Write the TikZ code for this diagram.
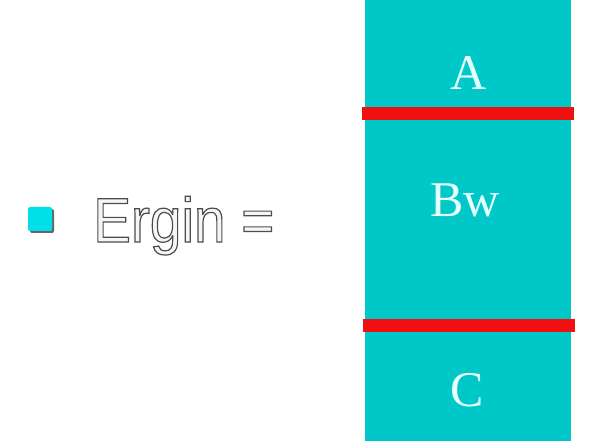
\documentclass[tikz,border=0pt]{standalone}
\usepackage{fontspec}
\setmainfont{Liberation Serif}
\newfontfamily\slidefont[FakeStretch=0.9]{Liberation Sans}
\usetikzlibrary{positioning}
\definecolor{colteal}{RGB}{0,200,200}
\definecolor{barred}{RGB}{240,16,16}
\definecolor{bulletcyan}{RGB}{0,224,232}
\definecolor{labelwhite}{RGB}{232,255,255}
\definecolor{embosslight}{RGB}{246,246,246}
% light letters with a dark edge
\newcommand\embossed[1]{\special{pdf:literal direct 0.3 G 1.2 w 2 Tr}#1\special{pdf:literal direct 0 Tr}}

\begin{document}
\begin{tikzpicture}[x=1pt,y=1pt,
    layer/.style={font=\fontsize{50}{54}\selectfont,text=labelwhite,inner sep=0pt},
    bar/.style={draw=barred,line width=13pt},
    square/.style={minimum size=24pt,inner sep=0pt,rounded corners=2pt},
    emboss/.style={font=\slidefont\fontsize{63}{68}\selectfont,inner sep=0pt,anchor=base west}]
  \useasboundingbox (0,0) rectangle (590,445);
  % the layered column
  \node[fill=colteal,minimum width=206pt,minimum height=441pt,inner sep=0pt,
        anchor=north west] (col) at (365,445) {};
  \node[layer] (a)  at (469,372) {A};
  \node[layer] (bw) at (465,245) {Bw};
  \node[layer] (c)  at (467,55)  {C};
  \coordinate (topw) at (362,331);
  \coordinate (tope) at (574,331);
  \coordinate (botw) at (363,119);
  \coordinate (bote) at (575,119);
  \draw[bar] (topw) -- (tope);
  \draw[bar] (botw) -- (bote);
  % bullet and label
  \node[square,fill=black!60] (bulletsh) at (42,224) {};
  \node[square,fill=bulletcyan] (bullet) at (40,226) {};
  \node[emboss,text=embosslight] (ergin) at (93,203) {\embossed{Ergin =}};
\end{tikzpicture}
\end{document}
